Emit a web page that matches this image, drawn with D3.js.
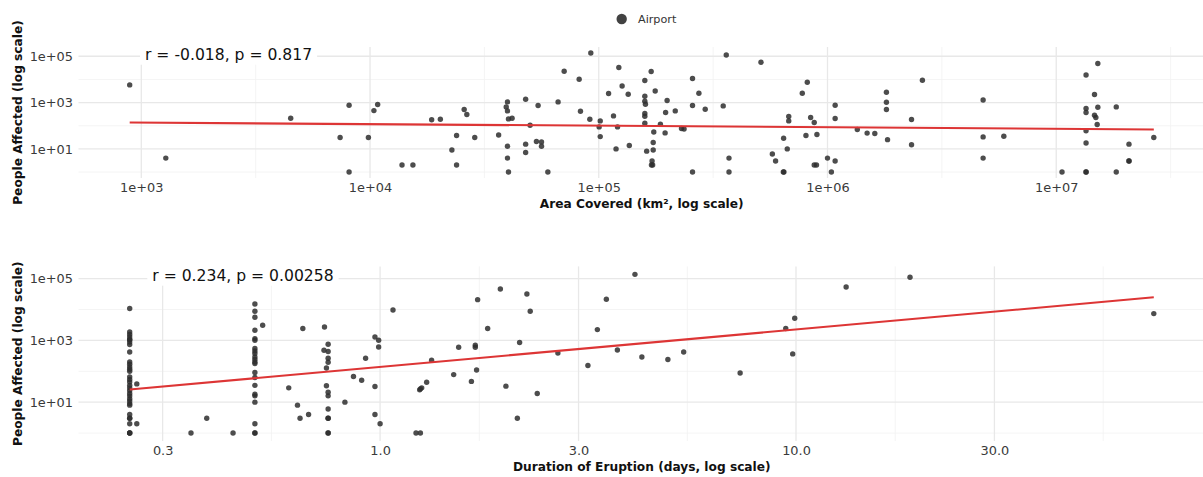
<!DOCTYPE html>
<html>
<head>
<meta charset="utf-8">
<script src="https://cdn.jsdelivr.net/npm/d3@7"></script>
<style>
  body { margin: 0; background: #fff; }
  svg { display: block; font-family: "DejaVu Sans", sans-serif; }
</style>
</head>
<body>
<svg id="chart" width="1203" height="477"></svg>
<script>
// ---- Eruption impact: area covered and duration vs. people affected ----

const legendLabel = "Airport";

// Panel 1: area covered (km²) vs people affected
const areaKm2 = [
  890, 1280, 4500, 7400, 8100, 8100, 9840, 10400, 10800, 13800,
  15400, 18600, 20300, 23900, 22800, 23900, 25800, 26500, 28700, 36500,
  39400, 39900, 39900, 40300, 41800, 39900, 39900, 40300, 47900, 50100,
  47900, 47900, 54300, 53400, 56200, 56200, 59900, 66400, 70600, 82100,
  83200, 91400, 92300, 100400, 101500, 101500, 110400, 116000, 119000, 120800,
  122400, 126500, 134500, 136000, 159000, 169500, 159000, 159000, 160000, 159000,
  159000, 159000, 176500, 174000, 173000, 162000, 173000, 171000, 172000, 170000,
  186000, 196000, 199000, 195000, 216000, 230000, 236000, 257000, 257000, 257000,
  274000, 292000, 350000, 361000, 371000, 371000, 512000, 574000, 593000, 641000,
  645000, 643000, 667000, 677000, 677000, 776000, 816000, 805000, 844000, 875000,
  899000, 875000, 895000, 1000000, 1040000, 1080000, 1080000, 1080000, 1350000, 1490000,
  1610000, 1810000, 1810000, 1810000, 1830000, 2330000, 2330000, 2600000, 4790000, 4790000,
  4790000, 5900000, 10600000, 13500000, 13500000, 13500000, 13500000, 13500000, 13500000, 13500000,
  15200000, 14700000, 15200000, 14700000, 14900000, 15100000, 18300000, 18300000, 20800000, 20800000,
  20800000, 26700000
];
const areaPeople = [
  5800, 4, 210, 31, 770, 1, 31, 450, 825, 2,
  2, 180, 190, 38, 9, 2, 500, 305, 31, 40,
  650, 1070, 437, 197, 211, 13, 4, 1, 1400, 105,
  16, 7, 747, 21, 20, 13, 1, 1070, 22500, 10200,
  424, 191, 139000, 89, 162, 34, 2460, 266, 10, 89,
  32600, 5230, 2300, 14, 8950, 21900, 1880, 1150, 850, 337,
  257, 129, 3180, 54, 19, 8, 9, 3, 2, 2,
  116, 372, 1230, 49, 437, 76, 72, 10900, 747, 1,
  2530, 517, 718, 114000, 4, 1, 55100, 6, 3, 1,
  1, 29, 10, 250, 162, 2530, 7550, 38, 226, 138,
  42, 2, 2, 4, 1, 770, 205, 3, 69, 48,
  46, 2800, 1040, 500, 25, 186, 15, 9220, 1300, 33,
  4, 35, 1, 15600, 554, 372, 60, 18, 1, 1,
  48400, 2230, 630, 285, 226, 113, 650, 1, 16, 3,
  3, 31
];
const areaTicks = [1e3, 1e4, 1e5, 1e6, 1e7];
const areaTrendX = [890, 26700000];
const areaTrendY = [138, 69];
const areaStat = "r = -0.018, p = 0.817";
const areaTitle = "Area Covered (km², log scale)";

// Panel 2: duration of eruption (days) vs people affected
const durationDays = [
  0.25, 0.25, 0.25, 0.25, 0.25, 0.25, 0.25, 0.25, 0.25, 0.25, 0.25,
  0.25, 0.25, 0.25, 0.25, 0.25, 0.25, 0.25, 0.25, 0.25, 0.25, 0.25,
  0.25, 0.25, 0.25, 0.25, 0.25, 0.25, 0.25, 0.25, 0.25, 0.25, 0.25,
  0.26, 0.26, 0.351, 0.383, 0.443,
  0.5, 0.5, 0.5, 0.5, 0.5, 0.5, 0.5, 0.5, 0.5, 0.5, 0.5,
  0.5, 0.5, 0.5, 0.5, 0.5, 0.5, 0.5, 0.5, 0.5, 0.5, 0.5,
  0.522, 0.603, 0.633, 0.642, 0.652, 0.673, 0.735, 0.733, 0.743, 0.743,
  0.75, 0.75, 0.75, 0.75, 0.75, 0.75, 0.75, 0.75, 0.75, 0.75, 0.75,
  0.823, 0.863, 0.903, 0.923, 0.972, 0.992, 0.992, 0.972, 0.972, 1.0,
  1.074, 1.22, 1.25, 1.245, 1.259, 1.25, 1.294, 1.33, 1.503, 1.545,
  1.658, 1.694, 1.694, 1.706, 1.716, 1.814, 1.946, 2.007, 2.138, 2.165,
  2.254, 2.296, 2.387, 2.676, 3.16, 3.33, 3.5, 3.72, 4.1, 4.26,
  4.92, 5.37, 7.34, 9.45, 9.93, 9.82, 13.2, 18.8, 72.5
];
const durationPeople = [
  10700, 1870, 1540, 1290, 1060, 1060, 890, 730, 420, 200, 169,
  138, 116, 100, 66, 54, 45, 35, 29, 24, 19, 16,
  13, 11, 9, 8, 4, 3, 3, 2, 1, 1, 1,
  39, 2, 1, 3, 1,
  15000, 8730, 5590, 2120, 1140, 1010, 543, 455, 375, 291, 240,
  200, 178, 91, 63, 35, 18, 16, 10, 2, 1, 1,
  3080, 29, 8, 3, 2410, 4, 2720, 479, 128, 34,
  750, 435, 264, 196, 21, 16, 6, 3, 3, 1, 1,
  10, 68, 51, 264, 1290, 1010, 612, 32, 4, 2,
  9620, 1, 1, 25, 29, 27, 44, 228, 78, 599,
  47, 695, 599, 110, 20800, 2410, 45900, 33, 3, 849,
  31700, 8730, 19, 392, 153, 2230, 21300, 490, 137000, 291,
  240, 422, 88, 2410, 5190, 364, 53300, 110000, 7360
];
const durationTicks = [0.3, 1, 3, 10, 30];
const durationTrendX = [0.25, 72.5];
const durationTrendY = [25.7, 24800];
const durationStat = "r = 0.234, p = 0.00258";
const durationTitle = "Duration of Eruption (days, log scale)";

const peopleTicks = [1e1, 1e3, 1e5];
const peopleTitle = "People Affected (log scale)";

// ---- drawing ----
const svg = d3.select("#chart");
const defs = svg.append("defs");

const COLORS = {
  point: "#2e2e2e",
  trend: "#dd3535",
  gridMajor: "#e8e8e8",
  gridMinor: "#f1f1f1",
  tick: "#3a3a3a",
  title: "#111"
};

// log-axis limits padded by 5% on the log scale
function logPad(values) {
  const [lo, hi] = d3.extent(values, v => Math.log10(v));
  const pad = (hi - lo) * 0.05;
  return [Math.pow(10, lo - pad), Math.pow(10, hi + pad)];
}

// minor grid positions halfway (in log space) between major breaks
function minorBreaks(majors, domain) {
  const logs = majors.map(v => Math.log10(v));
  const d = logs[1] - logs[0];
  const ext = [logs[0] - d, ...logs, logs[logs.length - 1] + d];
  const lo = Math.log10(domain[0]), hi = Math.log10(domain[1]);
  const mids = [];
  for (let i = 0; i < ext.length - 1; i++) mids.push((ext[i] + ext[i + 1]) / 2);
  return mids.filter(m => m >= lo && m <= hi).map(m => Math.pow(10, m));
}

const expLabel = v => "1e+" + String(Math.round(Math.log10(v))).padStart(2, "0");

function drawPanel(cfg, idx) {
  const x = d3.scaleLog().domain(logPad(cfg.xs)).range([cfg.left, cfg.right]);
  const y = d3.scaleLog().domain(logPad(cfg.ys)).range([cfg.bottom, cfg.top]);

  const clipId = "clip" + idx;
  defs.append("clipPath").attr("id", clipId)
    .append("rect")
    .attr("x", cfg.left).attr("y", cfg.top)
    .attr("width", cfg.right - cfg.left).attr("height", cfg.bottom - cfg.top);

  const g = svg.append("g");
  const grid = g.append("g");

  // minor grid
  minorBreaks(cfg.xTicks, x.domain()).forEach(v => {
    grid.append("line")
      .attr("x1", x(v)).attr("x2", x(v)).attr("y1", cfg.top).attr("y2", cfg.bottom)
      .attr("stroke", COLORS.gridMinor).attr("stroke-width", 0.8);
  });
  minorBreaks(cfg.yTicks, y.domain()).forEach(v => {
    grid.append("line")
      .attr("x1", cfg.left).attr("x2", cfg.right).attr("y1", y(v)).attr("y2", y(v))
      .attr("stroke", COLORS.gridMinor).attr("stroke-width", 0.8);
  });
  // major grid
  cfg.xTicks.forEach(v => {
    grid.append("line")
      .attr("x1", x(v)).attr("x2", x(v)).attr("y1", cfg.top).attr("y2", cfg.bottom)
      .attr("stroke", COLORS.gridMajor).attr("stroke-width", 1.3);
  });
  cfg.yTicks.forEach(v => {
    grid.append("line")
      .attr("x1", cfg.left).attr("x2", cfg.right).attr("y1", y(v)).attr("y2", y(v))
      .attr("stroke", COLORS.gridMajor).attr("stroke-width", 1.3);
  });

  // axes (labels only, no domain line or tick marks)
  const xAxis = d3.axisBottom(x).tickValues(cfg.xTicks).tickFormat(cfg.xFormat).tickSize(0).tickPadding(0);
  const xg = g.append("g").attr("transform", `translate(0,${cfg.bottom + 5})`).call(xAxis);
  const yAxis = d3.axisLeft(y).tickValues(cfg.yTicks).tickFormat(expLabel).tickSize(0).tickPadding(0);
  const yg = g.append("g").attr("transform", `translate(${cfg.left - 5.5},0)`).call(yAxis);
  [xg, yg].forEach(a => {
    a.select(".domain").remove();
    a.selectAll("text")
      .attr("font-family", "DejaVu Sans, sans-serif")
      .attr("font-size", 12.9)
      .attr("fill", COLORS.tick);
  });

  // points
  const pts = d3.zip(cfg.xs, cfg.ys);
  g.append("g").attr("clip-path", `url(#${clipId})`)
    .selectAll("circle").data(pts).join("circle")
    .attr("cx", d => x(d[0])).attr("cy", d => y(d[1]))
    .attr("r", 2.7)
    .attr("fill", COLORS.point)
    .attr("fill-opacity", 0.85);

  // fitted trend line
  const line = d3.line().x(d => x(d[0])).y(d => y(d[1]));
  g.append("path")
    .datum(d3.zip(cfg.trendX, cfg.trendY))
    .attr("clip-path", `url(#${clipId})`)
    .attr("d", line)
    .attr("fill", "none")
    .attr("stroke", COLORS.trend)
    .attr("stroke-width", 2.1);

  // correlation label with white backing
  const label = g.append("text")
    .attr("x", cfg.statX).attr("y", cfg.statY)
    .attr("font-size", 15.6)
    .attr("fill", "#111")
    .text(cfg.stat);
  const bb = label.node().getBBox();
  g.insert("rect", () => label.node())
    .attr("x", bb.x - 5).attr("y", bb.y - 1)
    .attr("width", bb.width + 10).attr("height", bb.height + 2)
    .attr("fill", "#fff");

  // axis titles
  g.append("text")
    .attr("x", (cfg.left + cfg.right) / 2).attr("y", cfg.xTitleY)
    .attr("text-anchor", "middle").attr("dominant-baseline", "central")
    .attr("font-size", 12.2).attr("font-weight", "bold").attr("fill", COLORS.title)
    .text(cfg.xTitle);
  g.append("text")
    .attr("transform", `translate(18.3,${(cfg.top + cfg.bottom) / 2}) rotate(-90)`)
    .attr("text-anchor", "middle").attr("dominant-baseline", "central")
    .attr("font-size", 12.2).attr("font-weight", "bold").attr("fill", COLORS.title)
    .text(peopleTitle);
}

drawPanel({
  xs: areaKm2, ys: areaPeople,
  xTicks: areaTicks, yTicks: peopleTicks, xFormat: expLabel,
  trendX: areaTrendX, trendY: areaTrendY,
  stat: areaStat, statX: 145, statY: 59.7,
  xTitle: areaTitle, xTitleY: 203.5,
  left: 78.5, right: 1205, top: 47, bottom: 178
}, 0);

drawPanel({
  xs: durationDays, ys: durationPeople,
  xTicks: durationTicks, yTicks: peopleTicks, xFormat: d3.format(".1f"),
  trendX: durationTrendX, trendY: durationTrendY,
  stat: durationStat, statX: 152.3, statY: 280.7,
  xTitle: durationTitle, xTitleY: 466.7,
  left: 78.5, right: 1205, top: 266.4, bottom: 441
}, 1);

// legend
const legend = svg.append("g");
legend.append("circle")
  .attr("cx", 621.7).attr("cy", 19).attr("r", 5.2)
  .attr("fill", COLORS.point).attr("fill-opacity", 0.9);
legend.append("text")
  .attr("x", 638).attr("y", 19)
  .attr("dominant-baseline", "central")
  .attr("font-size", 11.2).attr("fill", "#333")
  .text(legendLabel);
</script>
</body>
</html>
